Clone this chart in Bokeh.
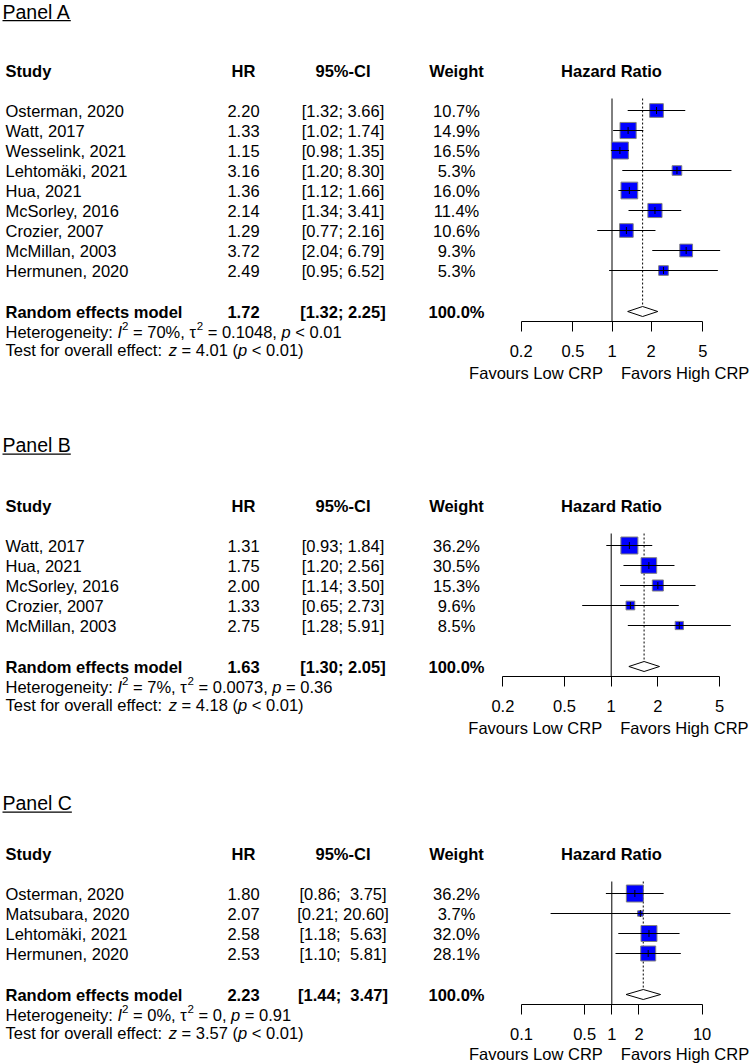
import math
from bokeh.plotting import figure
from bokeh.models import (ColumnDataSource, Range1d, LogScale, LogAxis, FixedTicker,
                          CustomJSTickFormatter)
from bokeh.core.properties import value
from bokeh.embed import file_html
from bokeh.resources import INLINE

# ---------------- data ----------------
A_studies = ["Osterman, 2020", "Watt, 2017", "Wesselink, 2021", "Lehtomäki, 2021", "Hua, 2021",
             "McSorley, 2016", "Crozier, 2007", "McMillan, 2003", "Hermunen, 2020"]
A_hr = [2.20, 1.33, 1.15, 3.16, 1.36, 2.14, 1.29, 3.72, 2.49]
A_lo = [1.32, 1.02, 0.98, 1.20, 1.12, 1.34, 0.77, 2.04, 0.95]
A_hi = [3.66, 1.74, 1.35, 8.30, 1.66, 3.41, 2.16, 6.79, 6.52]
A_w = [10.7, 14.9, 16.5, 5.3, 16.0, 11.4, 10.6, 9.3, 5.3]
A_pooled = [1.72, 1.32, 2.25]
A_het = ["70%", "0.1048", "< 0.01"]
A_test = ["4.01", "< 0.01"]
A_ticks = [0.2, 0.5, 1, 2, 5]

B_studies = ["Watt, 2017", "Hua, 2021", "McSorley, 2016", "Crozier, 2007", "McMillan, 2003"]
B_hr = [1.31, 1.75, 2.00, 1.33, 2.75]
B_lo = [0.93, 1.20, 1.14, 0.65, 1.28]
B_hi = [1.84, 2.56, 3.50, 2.73, 5.91]
B_w = [36.2, 30.5, 15.3, 9.6, 8.5]
B_pooled = [1.63, 1.30, 2.05]
B_het = ["7%", "0.0073", "= 0.36"]
B_test = ["4.18", "< 0.01"]
B_ticks = [0.2, 0.5, 1, 2, 5]

C_studies = ["Osterman, 2020", "Matsubara, 2020", "Lehtomäki, 2021", "Hermunen, 2020"]
C_hr = [1.80, 2.07, 2.58, 2.53]
C_lo = [0.86, 0.21, 1.18, 1.10]
C_hi = [3.75, 20.60, 5.63, 5.81]
C_w = [36.2, 3.7, 32.0, 28.1]
C_pooled = [2.23, 1.44, 3.47]
C_het = ["0%", "0", "= 0.91"]
C_test = ["3.57", "< 0.01"]
C_ticks = [0.1, 0.5, 1, 2, 10]

headers = ["Study", "HR", "95%-CI", "Weight", "Hazard Ratio"]
summary_label = "Random effects model"
fav_left = "Favours Low CRP"
fav_right = "Favors High CRP"

# ---------------- layout helpers ----------------
FONT = "Liberation Sans"
W = 752
H = 1063
FS = 16.5
FS_T = 19.5
NB = "\u00a0"

_w = {' ': 278, '%': 889, '(': 333, ')': 333, ',': 278, '-': 333, '.': 278, ':': 278, ';': 278,
      '<': 584, '=': 584, '[': 278, ']': 278, NB: 278, 'τ': 440, 'ä': 556}
for ch in "0123456789":
    _w[ch] = 556
for ch, v in zip("ABCDEFGHIJKLMNOPQRSTUVWXYZ",
                 [667, 667, 722, 722, 667, 611, 778, 722, 278, 500, 667, 556, 833, 722, 778, 667, 778, 722, 667, 611, 722, 667, 944, 667, 667, 611]):
    _w[ch] = v
for ch, v in zip("abcdefghijklmnopqrstuvwxyz",
                 [556, 556, 500, 556, 556, 278, 556, 556, 222, 222, 500, 222, 833, 556, 556, 556, 556, 333, 500, 278, 556, 500, 722, 500, 500, 500]):
    _w[ch] = v


def tw(s, fs):
    return sum(_w.get(ch, 556) for ch in s) * fs / 1000.0


p = figure(width=W, height=H, x_range=Range1d(0, W), y_range=Range1d(H, 0),
           x_axis_location=None, y_axis_location=None, toolbar_location=None,
           output_backend="svg", min_border_left=0, min_border_right=0, min_border_top=0,
           min_border_bottom=0, outline_line_color=None,
           background_fill_color="white", border_fill_color="white")
p.grid.visible = False

# collected texts
T = dict(x=[], y=[], text=[], align=[], style=[], size=[])


def add_text(x, y, text, align="left", style="normal", fs=FS):
    T["x"].append(x)
    T["y"].append(y)
    T["text"].append(text)
    T["align"].append(align)
    T["style"].append(style)
    T["size"].append(f"{fs:.2f}px")


def add_runs(x0, yc, runs):
    x = x0
    for txt, style, scale, dy in runs:
        fs = FS * scale
        st = txt.lstrip(" ")
        lead = len(txt) - len(st)
        t = st.rstrip(" ")
        if t:
            add_text(x + tw(" " * lead, fs), yc + dy, t, "left", style, fs)
        x += tw(txt, fs)


def ci_strings(lo, hi, plo, phi):
    los = [f"{v:.2f}" for v in lo + [plo]]
    his = [f"{v:.2f}" for v in hi + [phi]]
    ml = max(len(s) for s in los)
    mh = max(len(s) for s in his)
    return [f"[{NB * (ml - len(a))}{a};{NB * (mh - len(b) + 1)}{b}]" for a, b in zip(los, his)]


def make_panel(key, title, studies, hr, lo, hi, w, pooled, het, test, ticks,
               title_y, header_y, c, k):
    rn = "hr" + key
    n = len(studies)
    rows = [header_y + 40 + 20 * i for i in range(n)]
    sum_y = rows[-1] + 41
    axis_y = sum_y + 9.5

    p.extra_x_ranges[rn] = Range1d(10 ** ((0 - c) / k), 10 ** ((W - c) / k))
    p.extra_x_scales[rn] = LogScale()

    ax = LogAxis(x_range_name=rn, ticker=FixedTicker(ticks=ticks, minor_ticks=[]),
                 bounds=(ticks[0], ticks[-1]), fixed_location=axis_y,
                 formatter=CustomJSTickFormatter(code="return tick.toString();"))
    ax.axis_line_color = "black"
    ax.axis_line_width = 1
    ax.major_tick_line_color = "black"
    ax.major_tick_in = 0
    ax.major_tick_out = 10
    ax.minor_tick_line_color = None
    ax.major_label_standoff = 14
    ax.major_label_text_font = FONT
    ax.major_label_text_font_size = f"{FS}px"
    ax.major_label_text_color = "black"
    p.add_layout(ax, "below")

    # title with underline
    add_text(2, title_y, title, "left", "normal", FS_T)
    p.line(x=[2, 2 + tw(title, FS_T)], y=[title_y + 9.2, title_y + 9.2],
           line_color="black", line_width=1.3)

    # headers
    add_text(5, header_y, headers[0], "left", "bold")
    for hx, ht in zip([243, 342.5, 456, 611], headers[1:]):
        add_text(hx, header_y, ht, "center", "bold")

    # study rows
    cis = ci_strings(lo, hi, pooled[1], pooled[2])
    for i in range(n):
        add_text(5, rows[i], studies[i], "left")
        add_text(243, rows[i], f"{hr[i]:.2f}", "center")
        add_text(342.5, rows[i], cis[i], "center")
        add_text(456, rows[i], f"{w[i]:.1f}%", "center")

    # summary row
    add_text(5, sum_y, summary_label, "left", "bold")
    add_text(243, sum_y, f"{pooled[0]:.2f}", "center", "bold")
    add_text(342.5, sum_y, cis[n], "center", "bold")
    add_text(456, sum_y, "100.0%", "center", "bold")

    # reference lines
    p.segment(x0=[1], x1=[1], y0=[rows[0] - 12], y1=[axis_y], line_color="black", line_width=1,
              x_range_name=rn)
    p.segment(x0=[pooled[0]], x1=[pooled[0]], y0=[rows[0] - 12], y1=[sum_y - 5],
              line_color="black", line_width=1, line_dash="2 2", x_range_name=rn)

    # squares + CIs
    mw = max(w)
    src = ColumnDataSource(dict(hr=hr, lo=lo, hi=hi, y=rows,
                                size=[17 * math.sqrt(v / mw) for v in w],
                                ya=[r - 3.5 for r in rows], yb=[r + 3.5 for r in rows]))
    p.scatter(x="hr", y="y", size="size", marker="square", source=src, fill_color="#0000FF",
              line_color="#808080", line_width=1, x_range_name=rn)
    p.segment(x0="lo", x1="hi", y0="y", y1="y", source=src, line_color="black", line_width=1,
              x_range_name=rn)
    p.segment(x0="hr", x1="hr", y0="ya", y1="yb", source=src, line_color="black", line_width=1,
              x_range_name=rn)

    # diamond
    p.patch(x=[pooled[1], pooled[0], pooled[2], pooled[0]], y=[sum_y, sum_y - 5, sum_y, sum_y + 5],
            fill_color="white", line_color="black", line_width=1, x_range_name=rn)

    # heterogeneity + test
    hy = sum_y + 20.5
    add_runs(5, hy, [("Heterogeneity: ", "normal", 1, 0), ("I", "italic", 1, 0),
                     ("2", "normal", 0.7, -6), (f" = {het[0]}, ", "normal", 1, 0),
                     ("τ", "normal", 1, 0), ("2", "normal", 0.7, -6),
                     (f" = {het[1]}, ", "normal", 1, 0), ("p", "italic", 1, 0),
                     (f" {het[2]}", "normal", 1, 0)])
    ty = sum_y + 38
    add_runs(5, ty, [("Test for overall effect: ", "normal", 1, 0), ("z", "italic", 1, 0),
                     (f" = {test[0]} (", "normal", 1, 0), ("p", "italic", 1, 0),
                     (f" {test[1]})", "normal", 1, 0)])

    # favours labels
    fy = min(axis_y + 51.5, H - 10)
    add_text(c - 9, fy, fav_left, "right")
    add_text(c + 9, fy, fav_right, "left")


make_panel("A", "Panel A", A_studies, A_hr, A_lo, A_hi, A_w, A_pooled, A_het, A_test, A_ticks,
           title_y=11, header_y=70, c=611.5, k=130)
make_panel("B", "Panel B", B_studies, B_hr, B_lo, B_hi, B_w, B_pooled, B_het, B_test, B_ticks,
           title_y=444.5, header_y=505, c=610.7, k=155)
make_panel("C", "Panel C", C_studies, C_hr, C_lo, C_hi, C_w, C_pooled, C_het, C_test, C_ticks,
           title_y=802.5, header_y=853, c=611.3, k=90.3)

tsrc = ColumnDataSource(T)
p.text(x="x", y="y", text="text", source=tsrc, text_align="align", text_baseline="middle",
       text_font=value(FONT), text_font_size="size", text_font_style="style",
       text_color="black")

open("out.html", "w").write(file_html(p, INLINE))
